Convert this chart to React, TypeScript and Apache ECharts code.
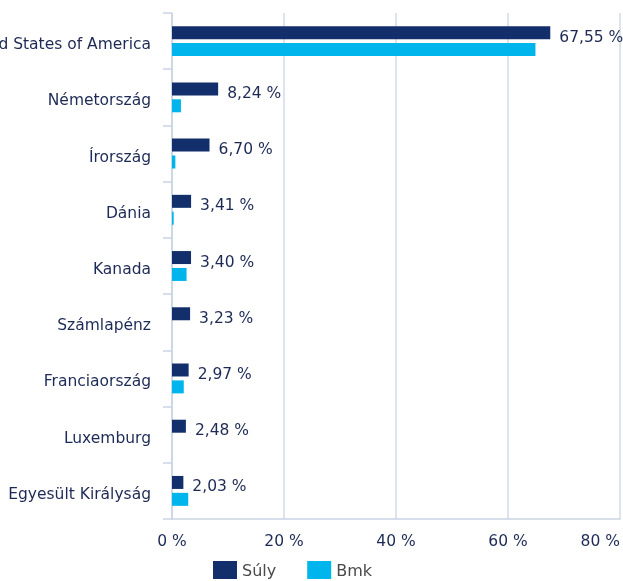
import React, { useEffect, useRef } from "react";
import * as echarts from "echarts";

const categories = [
  "United States of America",
  "Németország",
  "Írország",
  "Dánia",
  "Kanada",
  "Számlapénz",
  "Franciaország",
  "Luxemburg",
  "Egyesült Királyság",
];
const sulyValues = [67.55, 8.24, 6.7, 3.41, 3.4, 3.23, 2.97, 2.48, 2.03];
const bmkValues = [64.9, 1.6, 0.6, 0.3, 2.6, 0, 2.1, 0, 2.9];
const xTicks = [0, 20, 40, 60, 80];

const NAVY = "#132f6b";
const CYAN = "#00b5eb";
const TEXT = "#1d2a55";
const FONT = "DejaVu Sans, Verdana, sans-serif";

export default function App() {
  const ref = useRef<HTMLDivElement>(null);
  useEffect(() => {
    if (!ref.current) return;
    const chart = echarts.init(ref.current, null, { renderer: "svg" });
    const fmt = (v: number) => v.toFixed(2).replace(".", ",") + " %";
    chart.setOption({
      animation: false,
      textStyle: { fontFamily: FONT },
      grid: {
        left: 172,
        right: 3,
        top: 13,
        bottom: 62,
        containLabel: false,
        outerBoundsMode: "none",
      },
      legend: {
        left: 208,
        top: 556,
        itemWidth: 24,
        itemHeight: 18,
        itemGap: 31,
        icon: "rect",
        textStyle: { color: "#4a4a4a", fontSize: 16, fontFamily: FONT },
        data: ["Súly", "Bmk"],
      },
      xAxis: {
        type: "value",
        min: xTicks[0],
        max: xTicks[xTicks.length - 1],
        interval: 20,
        axisLine: { show: true, lineStyle: { color: "#c9d5e4", width: 1.5 } },
        axisTick: { show: false },
        splitLine: { show: true, lineStyle: { color: "#d2dbe8", width: 1.5 } },
        axisLabel: {
          color: TEXT,
          fontSize: 15.5,
          fontFamily: FONT,
          margin: 14,
          alignMaxLabel: "right",
          formatter: (v: number) => v + " %",
        },
      },
      yAxis: {
        type: "category",
        inverse: true,
        data: categories,
        axisLine: { show: true, lineStyle: { color: "#c9d5e4", width: 1.5 } },
        axisTick: { show: true, length: 9, lineStyle: { color: "#c9d5e4", width: 1.5 } },
        axisLabel: {
          margin: 21,
          formatter: (v: string) => "{c|" + v + "}",
          rich: {
            c: {
              color: TEXT,
              fontSize: 15.5,
              fontFamily: FONT,
              padding: [6, 0, 0, 0],
            },
          },
        },
      },
      series: [
        {
          name: "Súly",
          type: "bar",
          data: sulyValues,
          barWidth: 13,
          barGap: "30%",
          itemStyle: { color: NAVY },
          label: {
            show: true,
            position: "right",
            distance: 9,
            offset: [0, 4],
            color: TEXT,
            fontSize: 15.5,
            fontFamily: FONT,
            formatter: (p: any) => fmt(p.value),
          },
        },
        {
          name: "Bmk",
          type: "bar",
          data: bmkValues,
          barWidth: 13,
          itemStyle: { color: CYAN },
        },
      ],
    });
    return () => chart.dispose();
  }, []);
  return (
    <div
      ref={ref}
      style={{ position: "fixed", left: 0, top: 0, width: 623, height: 581 }}
    />
  );
}
